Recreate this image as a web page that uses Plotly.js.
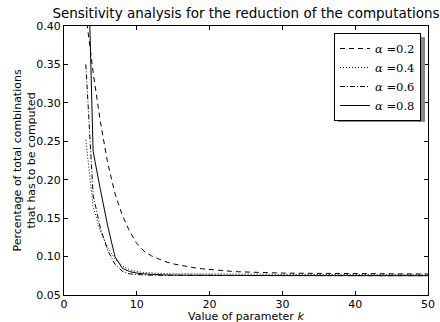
<!DOCTYPE html>
<html>
<head>
<meta charset="utf-8">
<script src="https://cdn.plot.ly/plotly-3.0.1.min.js"></script>
<style>html,body{margin:0;padding:0;background:#fff;}#chart{width:440px;height:322px;}</style>
</head>
<body>
<div id="chart"></div>
<script>
var kValues = [3,4,5,6,7,8,9,10,11,12,13,14,15,16,17,18,19,20,21,22,23,24,25,26,27,28,29,30,31,32,33,34,35,36,37,38,39,40,41,42,43,44,45,46,47,48,49,50];
var alpha02 = [0.415,0.340,0.275,0.222,0.182,0.154,0.133,0.117,0.107,0.101,0.097,0.0932,0.0905,0.0886,0.0868,0.0853,0.0841,0.0831,0.0822,0.0814,0.0808,0.0802,0.0798,0.0795,0.0792,0.0789,0.0787,0.0785,0.0784,0.0783,0.0782,0.0781,0.0780,0.0779,0.0778,0.0778,0.0777,0.0777,0.0776,0.0776,0.0775,0.0775,0.0774,0.0774,0.0774,0.0773,0.0773,0.0773];
var alpha04 = [0.252,0.165,0.133,0.112,0.097,0.088,0.083,0.0805,0.0792,0.0785,0.0780,0.0778,0.0776,0.0775,0.0774,0.0773,0.0772,0.0772,0.0771,0.0771,0.0770,0.0770,0.0770,0.0769,0.0769,0.0769,0.0768,0.0768,0.0768,0.0768,0.0767,0.0767,0.0767,0.0767,0.0767,0.0766,0.0766,0.0766,0.0766,0.0766,0.0766,0.0765,0.0765,0.0765,0.0765,0.0765,0.0765,0.0765];
var alpha06 = [0.350,0.180,0.137,0.108,0.090,0.081,0.0775,0.0765,0.0760,0.0757,0.0756,0.0755,0.0754,0.0754,0.0754,0.0754,0.0754,0.0754,0.0754,0.0754,0.0754,0.0754,0.0754,0.0753,0.0753,0.0753,0.0753,0.0753,0.0753,0.0753,0.0753,0.0753,0.0753,0.0753,0.0753,0.0753,0.0753,0.0753,0.0752,0.0752,0.0752,0.0752,0.0752,0.0752,0.0752,0.0752,0.0752,0.0752];
var alpha08 = [0.600,0.237,0.187,0.140,0.100,0.085,0.0805,0.0785,0.0775,0.0768,0.0763,0.0760,0.0758,0.0757,0.0756,0.0756,0.0755,0.0755,0.0755,0.0754,0.0754,0.0754,0.0754,0.0754,0.0753,0.0753,0.0753,0.0753,0.0753,0.0753,0.0752,0.0752,0.0752,0.0752,0.0752,0.0752,0.0752,0.0751,0.0751,0.0751,0.0751,0.0751,0.0751,0.0751,0.0751,0.0751,0.0751,0.0751];
var seriesNames = ['<i>α</i> =0.2','<i>α</i> =0.4','<i>α</i> =0.6','<i>α</i> =0.8'];
var xTicks = [0,10,20,30,40,50];
var yTicks = [0.05,0.10,0.15,0.20,0.25,0.30,0.35,0.40];

var dashes = ['5px,4px','1px,2px','5px,2px,1px,2px','solid'];
var allY = [alpha02, alpha04, alpha06, alpha08];
var traces = allY.map(function(y,i){
  return {x:kValues, y:y, type:'scatter', mode:'lines', name:seriesNames[i],
    line:{color:'#000', width:1, dash:dashes[i]}, cliponaxis:true};
});

var axisCommon = {showline:true, mirror:'ticks', linecolor:'#000', linewidth:1,
  ticks:'inside', ticklen:4, tickcolor:'#000', showgrid:false, zeroline:false,
  tickfont:{family:'DejaVu Sans', size:11, color:'#000'}};

var layout = {
  width:440, height:322,
  margin:{l:64, r:12, t:26, b:27},
  paper_bgcolor:'#fff', plot_bgcolor:'#fff',
  showlegend:true,
  title:{text:'Sensitivity analysis for the reduction of the computations', font:{family:'DejaVu Sans', size:13.5, color:'#000'}, x:246/440, xanchor:'center', y:1-13/322, yanchor:'middle'},
  xaxis:Object.assign({}, axisCommon, {range:[0,50], tickvals:xTicks, ticktext:xTicks.map(String), ticklabelstandoff:-1}),
  yaxis:Object.assign({}, axisCommon, {range:[0.05,0.40], tickvals:yTicks, ticktext:yTicks.map(function(v){return v.toFixed(2);})}),
  annotations:[
    {text:'Value of parameter <i>k</i>', xref:'paper', yref:'paper', x:0.5, y:0, xanchor:'center', yanchor:'middle', yshift:-21, showarrow:false, font:{family:'DejaVu Sans', size:11, color:'#000'}},
    {text:'Percentage of total combinations<br>that has to be computed', xref:'paper', yref:'paper', x:0, y:0.5, xanchor:'center', yanchor:'middle', xshift:-40, textangle:-90, showarrow:false, font:{family:'DejaVu Sans', size:11, color:'#000'}}
  ],
  legend:{x:(421-64)/364, xanchor:'right', y:(295-33)/269, yanchor:'top', bgcolor:'#fff', bordercolor:'#000', borderwidth:1,
    font:{family:'DejaVu Serif', size:11.5, color:'#000'}, tracegroupgap:0, itemwidth:30},
  shapes:[{type:'rect', xref:'paper', yref:'paper', x0:(338-64)/364, x1:(425-64)/364, y0:(295-122)/269, y1:(295-37)/269, fillcolor:'#888', line:{width:0}, layer:'above'}]
};
Plotly.newPlot('chart', traces, layout, {staticPlot:true, displayModeBar:false});
</script>
</body>
</html>
